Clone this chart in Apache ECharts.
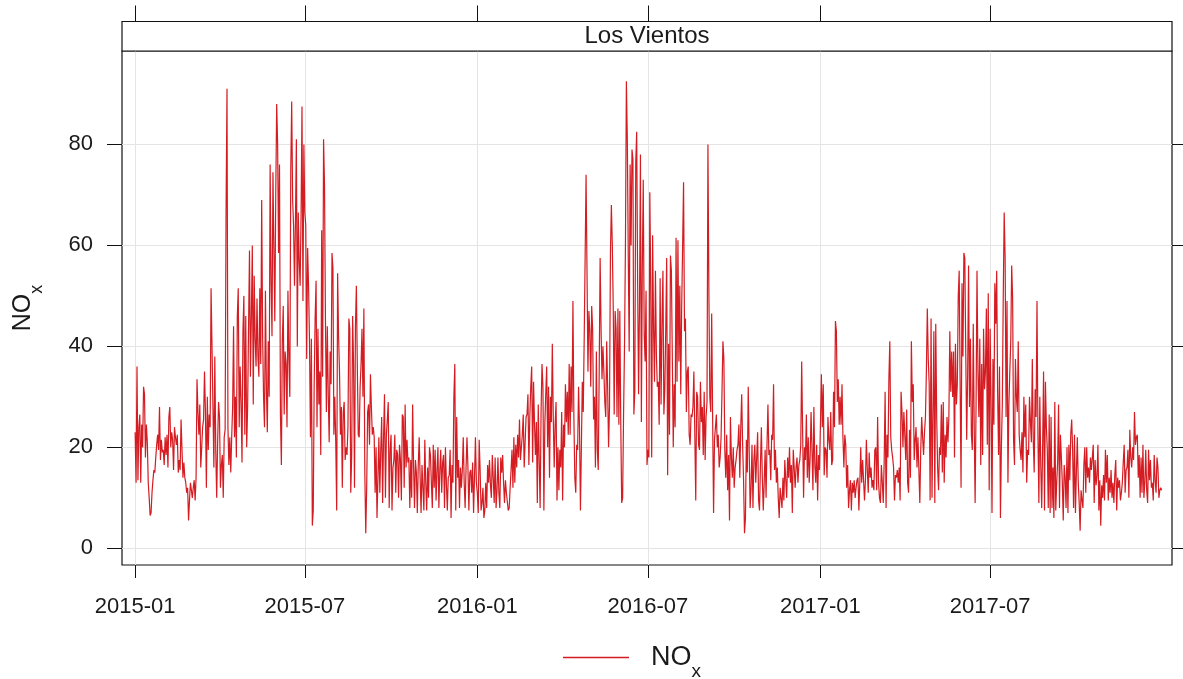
<!DOCTYPE html>
<html>
<head>
<meta charset="utf-8">
<script src="https://cdn.jsdelivr.net/npm/echarts@6/dist/echarts.min.js"></script>
<style>
  html, body { margin: 0; padding: 0; background: #ffffff; }
  #chart { width: 1183px; height: 679px; }
</style>
</head>
<body>
<div id="chart"></div>
<script>
// Daily mean NOx at the Los Vientos site, one value per day from 2015-01-01.
const siteName = 'Los Vientos';
const startDay = '2015-01-01';

const nox2015 = [
  23, 13, 36, 13.5, 24, 26.5, 13, 24.5, 20, 32, 30.5, 18, 24.5, 21,
  13, 10, 6.5, 7, 11, 13.5, 15.5, 15, 18, 20.5, 22.5, 19.5, 28, 17.5, 21.5, 19,
  19.5, 16.5, 22, 18.5, 22.5, 16, 26, 28, 20, 23, 21.5, 15.5, 24, 22,
  20.5, 22.5, 15, 17.5, 15.5, 25.5, 19.5, 14, 17, 14, 13,
  11, 12, 5.5, 9.5, 13, 11.5, 10, 12, 13.5, 9.5, 14,
  33.5, 27, 22.5, 28.5, 16, 20, 24, 25.5, 35, 27, 12, 30, 19.5, 26.5, 24, 51.5,
  40, 28, 16, 38, 19.5, 10, 21, 29, 26, 12, 16.5, 18.5, 10, 22, 23.5, 67, 91, 24,
  16.5, 22,
  15, 22, 28, 44, 22, 30, 18, 46, 51.5, 24, 36, 29, 17, 43, 50, 22.5, 46, 20,
  28, 44, 59, 34, 46, 60, 28.5, 54, 41.5, 36, 49.5, 38, 34, 51.5, 36.5, 69, 42, 30,
  24, 51, 32, 23, 41, 30, 76, 53, 42, 74.5, 60, 45, 70, 88, 80, 58.5, 76, 26.5,
  16.5, 41, 48, 26.5, 39, 36.5, 24, 51, 37.5, 30, 74.5, 88.5, 69, 64, 52,
  64.5, 81, 40, 66.5, 57, 52, 66, 87.5, 49, 80, 66.5, 64, 37.5, 59.5, 52, 41,
  22, 41.5, 4.5, 7.5, 32.5, 45.5, 53, 24, 43.5, 28.5, 35, 18.5, 63, 34, 81, 72,
  45.5, 27, 44, 30.5, 21, 39, 32.5, 58.5, 55.5, 22.5, 30, 21, 7.5, 54.5, 42, 35,
  22.5, 28, 12, 27, 29, 17.5, 20, 18.5, 24, 45.5, 43.5, 11, 18.5, 46,
  36.5, 12, 44, 52, 36, 22.5, 22, 32, 36.5, 43.5, 30, 47.5, 15, 3, 12, 27,
  28.5, 20.5, 34.5, 28, 22.5, 24, 22, 11, 20, 6, 14, 22, 11, 19.5, 26, 9,
  22, 30.5, 10, 22.5, 25.5, 29, 8, 19.5, 22.5, 7.5, 16, 17.5, 22.5, 11, 19.5, 18.5,
  10, 20.5, 17.5, 9.5, 26.5, 26, 12, 28.5, 16, 21.5, 17, 18, 8, 17.5, 10, 28.5,
  16.5, 8, 17.5, 15, 7, 16.5, 22, 14, 7, 16.5, 12, 7.5, 21.5, 13, 7.5, 16,
  10, 20, 18.5, 13, 8, 20.5, 12, 19.5, 9.5, 15.5, 20, 8, 15.5, 19.5, 11, 17,
  18.5, 8, 20, 13, 7.5, 14,
  14.5, 19.5, 6, 16.5, 13, 30, 36.5, 7.5, 26, 14, 17.5, 8, 16, 12,
  15.5, 22, 13, 8, 16, 22, 16, 7.5, 15, 15.5, 11, 17, 7, 14, 22, 13
];

const nox2016 = [
  11, 7, 21.5, 15.5, 7.5, 9, 12, 6, 7.5, 13, 8, 16.5, 13, 17.5, 12.5, 10,
  18.5, 14, 9, 18, 8, 11.5, 18, 11, 8, 18, 15, 18.5, 13, 9, 13.5, 11,
  11, 7.5, 8, 12, 15.5, 19.5, 12, 22, 13, 20.5, 16, 22.5, 18, 25.5, 17.5, 20,
  22.5, 26.5, 16, 16, 26, 26.5, 30.5, 16.5, 26, 32, 36, 17, 33, 24.5, 18.5, 25,
  9, 28.5, 17.5, 8, 27, 36.5, 32, 7.5, 24.5, 30.5, 36, 20, 32, 14, 30, 25,
  40.5, 26, 16, 24.5, 29,
  9.5, 20, 11.5, 19.5, 16, 27, 9.5, 24.5, 20, 32.5, 25, 31, 22.5, 36.5,
  22.5, 36, 27, 49, 26, 14, 11, 20.5, 19.5, 32, 24, 7.5, 20, 33, 27, 41.5,
  57.5, 74, 55, 35, 47, 43, 32, 48, 43.5, 25.5, 30, 16, 39, 19.5, 15.5, 35,
  57.5, 43.5, 33.5, 40, 35, 29, 26, 41, 32, 20, 28, 58.5, 68, 60, 47.5, 26.5,
  47, 43.5, 26, 47.5, 24.5, 47, 25, 9, 10, 26.5, 40, 60, 92.5, 81, 58.5, 39,
  76, 60, 79, 77, 26.5, 31, 76.5, 82.5, 53, 30.5, 48, 78, 25, 56, 73, 42.5,
  37, 51, 16.5, 19.5, 18, 70.5, 52, 18, 62, 43.5, 33, 55, 38.5, 32, 33, 24.5,
  53.5, 28.5, 44.5, 55, 26.5,
  31.5, 43.5, 57.5, 14.5, 40.5, 22.5, 58, 55, 38, 20, 32.5, 24, 61.5, 33,
  61, 37, 52, 30.5, 48, 60, 72.5, 43, 45.5, 27, 35, 36, 22.5, 20.5, 26.5, 26,
  28, 35, 22.5, 9.5, 31, 30, 20.5, 19.5, 33, 25, 28, 18.5, 31, 17.5, 26, 29,
  80, 51, 30, 27, 46.5, 26, 7, 21.5, 24, 26.5, 20, 22.5, 16, 18, 22, 31,
  41, 37.5, 19.5, 14, 22.5, 11.5, 18.5, 5.5, 26, 18, 14, 20, 12, 16, 17.5, 19.5,
  20.5, 24.5, 14, 24, 30.5, 20.5, 13.5, 3, 6, 21.5, 15, 32, 19.5, 8, 12, 20.5,
  8, 17.5, 20.5, 13, 18, 23, 9.5, 7.5, 16.5, 24, 14, 7.5, 13, 19.5, 10, 20.5,
  28.5, 18.5, 19.5, 13.5, 22.5,
  21.5, 32.5, 15.5, 19.5, 13, 16, 10, 6, 12, 12, 8, 14, 9.5, 17.5,
  13.5, 10, 18, 14, 20, 13, 16.5, 7, 19.5, 16, 12, 16, 18, 13, 16.5, 17.5,
  20.5, 37, 23, 10, 20, 17.5, 26.5, 14, 22, 13, 18, 27, 19.5, 11.5, 28, 16.5,
  13, 20.5, 9.5, 18.5, 15.5
];

const nox2017 = [
  24.5, 34.5, 24, 32.5, 14.5, 20, 19.5, 14, 26, 21.5, 19.5, 27, 16.5, 17.5, 31, 24,
  45, 43, 29, 33.5, 24.5, 30, 24.5, 32.5, 22, 16, 22.5, 20.5, 12, 16.5, 8, 11.5,
  13.5, 7.5, 13, 11, 13.5, 10, 12, 13.5, 14, 7.5, 13, 20, 13, 17.5, 13.5, 9.5,
  13.5, 21.5, 15.5, 11, 19, 14, 16, 12, 13.5, 11.5, 19.5, 20, 11.5, 26, 13, 10,
  9, 16.5, 13, 9, 17.5, 31, 8, 22.5, 18, 33.5, 41, 22, 19.5, 18,
  16, 9.5, 14.5, 14, 15.5, 13, 16, 9.5, 31, 27, 20, 27, 22.5, 17.5, 27.5, 13,
  11, 23.5, 14, 41, 29, 32.5, 17.5, 21.5, 24, 16, 22, 15.5, 9, 19.5, 26, 22,
  18.5, 23, 26, 35, 47.5, 37.5, 32.5, 9.5, 45.5, 10, 26, 43, 9, 44.5, 26, 16,
  11.5, 20, 18.5, 28.5, 15, 29, 13, 22.5, 18, 26, 21, 26, 43, 31, 39, 30,
  39, 18, 40.5, 28.5, 32.5, 50, 55, 32.5, 12, 52.5, 38, 58.5, 57.5, 39, 21.5, 34,
  56, 28, 41.5, 22.5, 19.5, 44.5, 24.5, 9, 28.5, 55, 35, 26, 41.5, 16.5, 36.5, 18.5,
  43.5, 31.5, 35, 47.5, 20.5,
  50.5, 11.5, 43.5, 29, 7, 37.5, 24.5, 52.5, 44.5, 55, 31, 18.5, 36, 6, 20,
  28.5, 50, 66.5, 57.5, 26, 49, 13, 28.5, 35, 41, 56, 49.5, 21.5, 16.5, 37.5, 30,
  27, 41, 22.5, 19.5, 17.5, 23, 15, 30, 22, 28.5, 13, 19.5, 18.5, 30, 25, 21,
  37.5, 21.5, 15, 31.5, 26, 49, 22.5, 9, 30, 16.5, 8, 20, 35, 7.5, 33, 24,
  19.5, 8, 26.5, 7, 26, 8, 16, 6, 29, 7.5, 13, 17, 28.5, 8, 22.5, 18,
  13, 5.5, 16.5, 14, 8, 20, 7, 20.5, 13.5, 22.5, 25.5, 19.5, 8, 22.5, 7, 15,
  22, 13, 9, 3.5, 11.5, 9.5, 8, 16.5, 20, 11, 20, 14, 16, 13, 18, 15.5,
  15.5, 20.5, 9, 17.5, 12.5, 14.5, 20.5, 7.5, 13.5, 4.5, 12.5, 10, 14.5, 9.5, 19.5, 13,
  18.5, 9.5, 14, 11, 15.5, 10, 13, 9, 14.5, 17.5, 7.5, 14, 12, 13.5, 9.5, 11,
  13, 17, 20.5, 11, 15.5, 16, 19.5, 10, 23.5, 18, 16, 20, 17.5, 27, 20.5, 22,
  22.5, 14, 18.5, 10, 18, 11, 20.5, 10, 13, 19.5, 11.5, 9, 19.5, 13.5, 17.5, 12,
  13, 9.5, 18.5, 13.5, 11, 18, 16, 10, 11.5, 12, 11.5
];

// Axis ticks and view range
const xTickDates = ['2015-01-01', '2015-07-01', '2016-01-01', '2016-07-01', '2017-01-01', '2017-07-01'];
const yTickValues = [0, 20, 40, 60, 80];
const xRange = ['2014-12-18', '2018-01-11'];
const yRange = [-3.3, 98.5];

const DAY = 86400000;
const toTime = s => Date.parse(s + 'T00:00:00Z');
const allValues = nox2015.concat(nox2016, nox2017);
const t0 = toTime(startDay);
const seriesData = allValues.map((v, i) => [t0 + i * DAY, v]);
const xTicks = xTickDates.map(toTime);

// Panel geometry (pixels)
const panel = { left: 122, right: 1172, top: 51, bottom: 565 };
const stripHeight = 29.5;

const fontFamily = "'Liberation Sans', Arial, sans-serif";
const textColor = '#1a1a1a';
const lineColor = '#d41c22';
const gridColor = '#e4e4e4';
const pad2 = n => (n < 10 ? '0' : '') + n;
const monthLabel = v => { const d = new Date(v); return d.getUTCFullYear() + '-' + pad2(d.getUTCMonth() + 1); };

// "NO" with a subscript x
const makeNoxRich = (size, subSize, subLine) => ({
  a: { fontFamily, fontSize: size, color: textColor, lineHeight: size + 2, verticalAlign: 'middle' },
  b: { fontFamily, fontSize: subSize, color: textColor, lineHeight: subLine, verticalAlign: 'bottom' }
});

const chart = echarts.init(document.getElementById('chart'), null, { renderer: 'canvas' });

chart.setOption({
  animation: false,
  backgroundColor: '#ffffff',
  grid: {
    left: panel.left, right: 1183 - panel.right, top: panel.top, bottom: 679 - panel.bottom,
    containLabel: false, outerBoundsMode: 'none',
    show: true, borderColor: '#111', borderWidth: 1.2, backgroundColor: 'transparent'
  },
  xAxis: [
    {
      type: 'value', min: toTime(xRange[0]), max: toTime(xRange[1]),
      axisLine: { show: false, onZero: false },
      axisTick: { show: true, length: 13, inside: false, customValues: xTicks, lineStyle: { color: '#111', width: 1 } },
      axisLabel: {
        show: true, customValues: xTicks, formatter: monthLabel, margin: 31,
        fontFamily, fontSize: 22, color: textColor, hideOverlap: false
      },
      splitLine: { show: true, lineStyle: { color: gridColor, width: 1 } }
    },
    {
      type: 'value', position: 'top', offset: stripHeight, min: toTime(xRange[0]), max: toTime(xRange[1]),
      axisLine: { show: false, onZero: false },
      axisTick: { show: true, length: 16, customValues: xTicks, lineStyle: { color: '#111', width: 1 } },
      axisLabel: { show: false },
      splitLine: { show: false }
    }
  ],
  yAxis: [
    {
      type: 'value', min: yRange[0], max: yRange[1],
      name: '{a|NO}{b|x}', nameLocation: 'middle', nameGap: 76, nameRotate: 90,
      nameTextStyle: { rich: makeNoxRich(25, 18, 46) },
      axisLine: { show: false, onZero: false },
      axisTick: { show: true, length: 15, customValues: yTickValues, lineStyle: { color: '#111', width: 1 } },
      axisLabel: { show: true, customValues: yTickValues, margin: 29, fontFamily, fontSize: 22, color: textColor },
      splitLine: { show: true, lineStyle: { color: gridColor, width: 1 } }
    },
    {
      type: 'value', position: 'right', min: yRange[0], max: yRange[1],
      axisLine: { show: false, onZero: false },
      axisTick: { show: true, length: 14, customValues: yTickValues, lineStyle: { color: '#111', width: 1 } },
      axisLabel: { show: false },
      splitLine: { show: false }
    }
  ],
  legend: {
    show: true, left: 558, top: 639, icon: 'rect', itemWidth: 66, itemHeight: 1.5, itemGap: 10,
    data: [{ name: 'NOx' }],
    formatter: () => '{a|NO}{b|x}',
    textStyle: { rich: makeNoxRich(27, 19, 48), padding: [0, 0, 0, 17] }
  },
  graphic: [
    {
      type: 'rect', x: panel.left, y: panel.top - stripHeight, z: 10,
      shape: { width: panel.right - panel.left, height: stripHeight },
      style: { fill: '#ffffff', stroke: '#111', lineWidth: 1.2 }
    },
    {
      type: 'text', x: (panel.left + panel.right) / 2, y: panel.top - stripHeight / 2, z: 11,
      style: { text: siteName, fontFamily, fontSize: 24, fill: textColor, align: 'center', verticalAlign: 'middle' }
    }
  ],
  series: [
    {
      name: 'NOx', type: 'line', xAxisIndex: 0, yAxisIndex: 0,
      data: seriesData, showSymbol: false, symbol: 'none',
      lineStyle: { color: lineColor, width: 1.2 }, itemStyle: { color: lineColor },
      emphasis: { disabled: true }, silent: true
    }
  ]
});
</script>
</body>
</html>
